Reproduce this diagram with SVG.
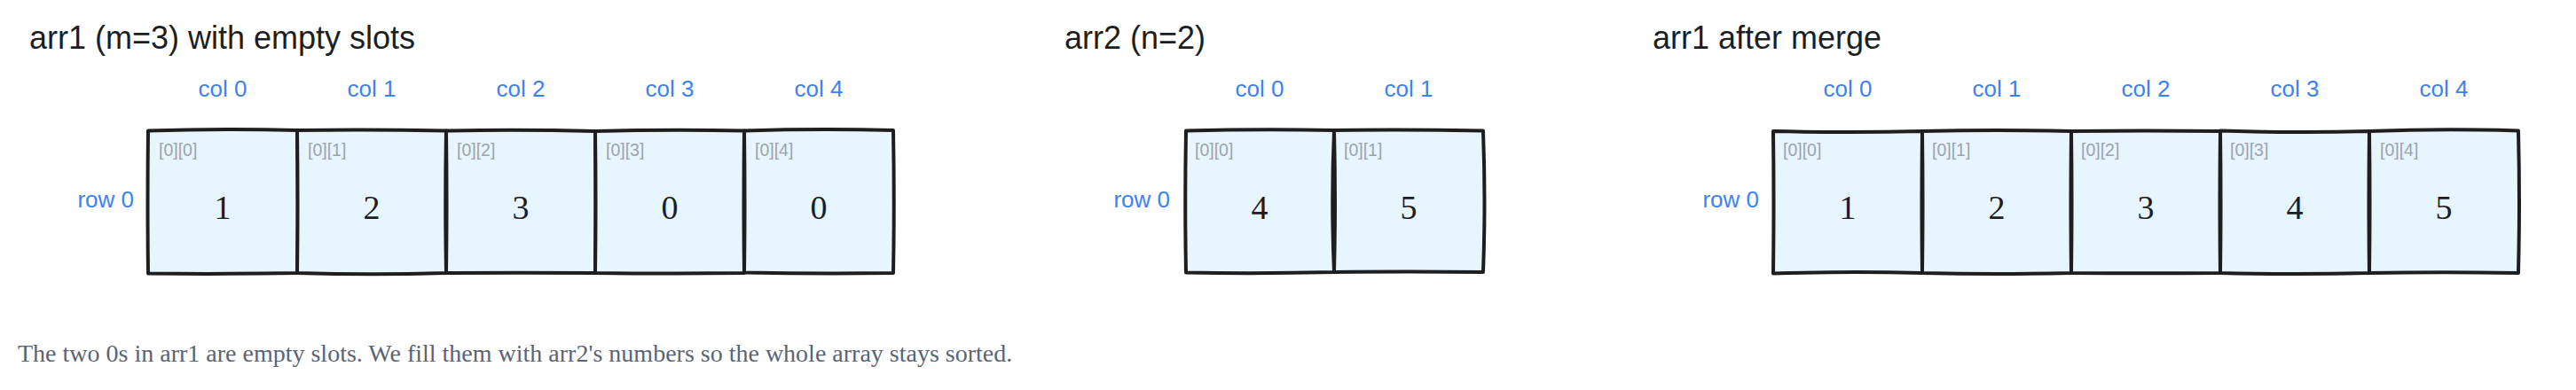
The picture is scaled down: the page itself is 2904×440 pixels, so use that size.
<svg xmlns="http://www.w3.org/2000/svg" width="2904" height="440" viewBox="0 0 2904 440">
<style>
.bg{fill:#ffffff}
.title{font-family:"Liberation Sans",Arial,sans-serif;font-size:36px;fill:#1b1f24}
.col{font-family:"Liberation Sans",Arial,sans-serif;font-size:26px;fill:#3b82f6;text-anchor:middle}
.row{font-family:"Liberation Sans",Arial,sans-serif;font-size:26px;fill:#3b82f6;text-anchor:end}
.idx{font-family:"Liberation Sans",Arial,sans-serif;font-size:19.5px;fill:#9ca3af}
.val{font-family:"Liberation Serif","Times New Roman",serif;font-size:38px;fill:#1e1e1e;text-anchor:middle}
.note{font-family:"Liberation Serif","Times New Roman",serif;font-size:28px;fill:#5a6474}
.cellfill{fill:#e7f5ff;stroke:none}
.cellline{fill:none;stroke:#1e1e1e;stroke-width:4;stroke-linecap:round;stroke-linejoin:round}
</style>
<rect class="bg" x="0" y="0" width="2904" height="440"/>

<!-- arr1 (before) -->
<g id="arr1-labels">
<text class="title" x="33" y="55">arr1 (m=3) with empty slots</text>
<text class="col" x="251" y="109">col 0</text>
<text class="col" x="419" y="109">col 1</text>
<text class="col" x="587" y="109">col 2</text>
<text class="col" x="755" y="109">col 3</text>
<text class="col" x="923" y="109">col 4</text>
<text class="row" x="151" y="234">row 0</text>
</g>
<g id="arr1-cell-0">
<rect class="cellfill" x="167" y="147" width="168" height="161"/>
<path class="cellline" d="M167 147.5 Q251 145 335 147 Q336.5 228 335 308 Q251 309.5 167 308.5 Q166 228 167 147.5 Z"/>
<text class="idx" x="179" y="176">[0][0]</text>
<text class="val" x="251" y="247">1</text>
</g>
<g id="arr1-cell-1">
<rect class="cellfill" x="335" y="147" width="168" height="161"/>
<path class="cellline" d="M335 147 Q419 146 503 147.5 Q501.5 228 503 308 Q419 310.5 335 308 Q336 228 335 147 Z"/>
<text class="idx" x="347" y="176">[0][1]</text>
<text class="val" x="419" y="247">2</text>
</g>
<g id="arr1-cell-2">
<rect class="cellfill" x="503" y="147" width="168" height="161"/>
<path class="cellline" d="M503 147.5 Q587 146 671 148 Q672 228 671 308 Q587 307.5 503 308 Q504 228 503 147.5 Z"/>
<text class="idx" x="515" y="176">[0][2]</text>
<text class="val" x="587" y="247">3</text>
</g>
<g id="arr1-cell-3">
<rect class="cellfill" x="671" y="147" width="168" height="161"/>
<path class="cellline" d="M671 148 Q755 146 839 147.5 Q838 228 839 308 Q755 309 671 308 Q672 228 671 148 Z"/>
<text class="idx" x="683" y="176">[0][3]</text>
<text class="val" x="755" y="247">0</text>
</g>
<g id="arr1-cell-4">
<rect class="cellfill" x="839" y="147" width="168" height="161"/>
<path class="cellline" d="M839 147.5 Q923 145 1007 147 Q1008.5 228 1007 308 Q923 309 839 307.5 Q840 228 839 147.5 Z"/>
<text class="idx" x="851" y="176">[0][4]</text>
<text class="val" x="923" y="247">0</text>
</g>

<!-- arr2 -->
<g id="arr2-labels">
<text class="title" x="1200" y="55">arr2 (n=2)</text>
<text class="col" x="1420" y="109">col 0</text>
<text class="col" x="1588" y="109">col 1</text>
<text class="row" x="1319" y="234">row 0</text>
</g>
<g id="arr2-cell-0">
<rect class="cellfill" x="1336" y="147" width="168" height="160"/>
<path class="cellline" d="M1337 147.5 Q1420 145.5 1504 147 Q1500.5 228 1504 307 Q1420 309 1337 307.5 Q1335.5 228 1337 147.5 Z"/>
<text class="idx" x="1347" y="176">[0][0]</text>
<text class="val" x="1420" y="247">4</text>
</g>
<g id="arr2-cell-1">
<rect class="cellfill" x="1504" y="147" width="168" height="160"/>
<path class="cellline" d="M1504 147 Q1588 146 1672 147.5 Q1675 228 1672 307 Q1588 306 1504 307 Q1506 228 1504 147 Z"/>
<text class="idx" x="1515" y="176">[0][1]</text>
<text class="val" x="1588" y="247">5</text>
</g>

<!-- arr1 after merge -->
<g id="merged-labels">
<text class="title" x="1863" y="55">arr1 after merge</text>
<text class="col" x="2083" y="109">col 0</text>
<text class="col" x="2251" y="109">col 1</text>
<text class="col" x="2419" y="109">col 2</text>
<text class="col" x="2587" y="109">col 3</text>
<text class="col" x="2755" y="109">col 4</text>
<text class="row" x="1983" y="234">row 0</text>
</g>
<g id="merged-cell-0">
<rect class="cellfill" x="1999" y="148" width="168" height="160"/>
<path class="cellline" d="M1999 148 Q2083 150 2167 148 Q2166 228 2167 308 Q2083 306 1999 308.5 Q2000 228 1999 148 Z"/>
<text class="idx" x="2010" y="176">[0][0]</text>
<text class="val" x="2083" y="247">1</text>
</g>
<g id="merged-cell-1">
<rect class="cellfill" x="2167" y="148" width="168" height="160"/>
<path class="cellline" d="M2167 148 Q2251 146 2335 148 Q2334 228 2335 308 Q2251 310 2167 308 Q2168 228 2167 148 Z"/>
<text class="idx" x="2178" y="176">[0][1]</text>
<text class="val" x="2251" y="247">2</text>
</g>
<g id="merged-cell-2">
<rect class="cellfill" x="2335" y="148" width="168" height="160"/>
<path class="cellline" d="M2335 148 Q2419 147 2503 148 Q2502 228 2503 308 Q2419 308.5 2335 308 Q2336 228 2335 148 Z"/>
<text class="idx" x="2346" y="176">[0][2]</text>
<text class="val" x="2419" y="247">3</text>
</g>
<g id="merged-cell-3">
<rect class="cellfill" x="2503" y="148" width="168" height="160"/>
<path class="cellline" d="M2503 147.5 Q2587 150 2671 148 Q2670 228 2671 308 Q2587 310 2503 308 Q2504 228 2503 147.5 Z"/>
<text class="idx" x="2514" y="176">[0][3]</text>
<text class="val" x="2587" y="247">4</text>
</g>
<g id="merged-cell-4">
<rect class="cellfill" x="2671" y="148" width="168" height="160"/>
<path class="cellline" d="M2671 148 Q2755 145 2839 147.5 Q2841 228 2839 308 Q2755 306.5 2671 308 Q2672 228 2671 148 Z"/>
<text class="idx" x="2683" y="176">[0][4]</text>
<text class="val" x="2755" y="247">5</text>
</g>

<g id="connectors"></g>

<g id="caption">
<text class="note" x="20" y="408">The two 0s in arr1 are empty slots. We fill them with arr2's numbers so the whole array stays sorted.</text>
</g>
</svg>
